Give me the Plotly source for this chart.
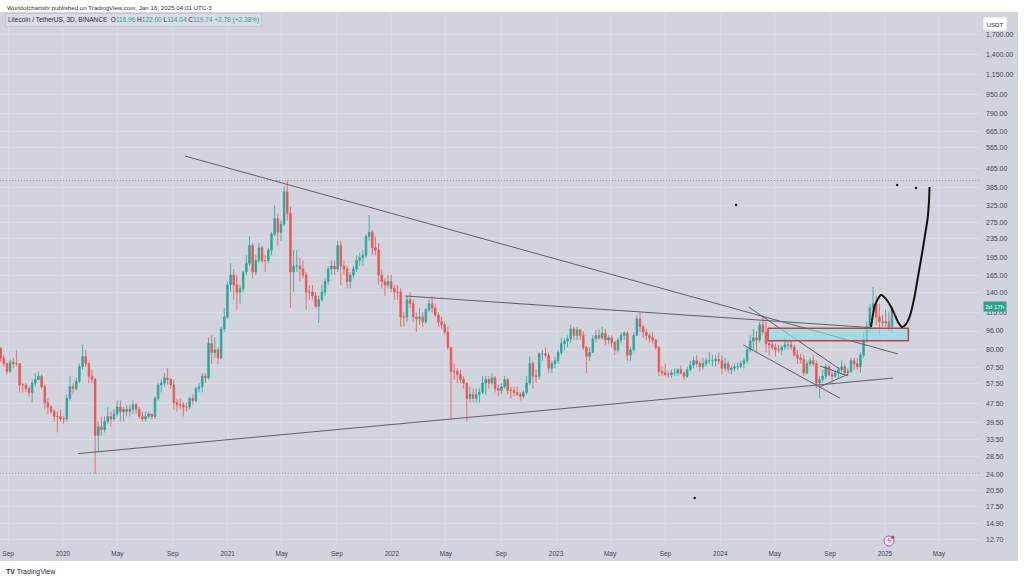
import numpy as np
import pandas as pd
import plotly.graph_objects as go

# ---------------- data (weekly candles) ----------------
first_open = 81
close_2019 = [74, 70, 65, 71, 70, 70, 57, 57, 55, 53, 58, 60, 62, 56, 48, 46, 44, 42, 42, 41, 41]
high_2019 = [82, 76, 71, 73, 74, 80, 70, 58, 58, 56, 60, 64, 65, 63, 57, 50, 47, 45, 44, 45, 42]
low_2019 = [71, 68, 63, 64, 67, 68, 53, 53, 53, 51, 48, 56, 60, 55, 45, 43, 43, 40, 36, 40, 39]

close_2020 = [50, 56, 55, 59, 68, 75, 70, 62, 60, 35, 38, 37, 40, 42, 41, 43, 46, 44, 45, 44, 45, 47, 45, 42, 41, 42,
              43, 42, 50, 57, 58, 61, 60, 57, 48, 47, 47, 46, 46, 50, 49, 55, 56, 62, 61, 85, 78, 80, 74, 98, 110, 150]
high_2020 = [52, 62, 58, 61, 70, 84, 80, 71, 66, 61, 40, 42, 42, 46, 44, 45, 49, 49, 46, 47, 47, 49, 48, 46, 44, 44,
             44, 43, 51, 58, 60, 64, 67, 61, 60, 50, 50, 48, 48, 51, 52, 56, 58, 64, 64, 90, 92, 90, 82, 100, 120, 155]
low_2020 = [40, 49, 52, 54, 58, 66, 68, 58, 58, 24, 30, 35, 36, 39, 38, 40, 42, 40, 40, 42, 42, 43, 43, 41, 40, 40,
            41, 41, 41, 49, 53, 56, 57, 55, 45, 44, 45, 42, 44, 45, 47, 48, 53, 53, 58, 60, 70, 74, 70, 73, 95, 108]

close_2021 = [165, 150, 140, 145, 170, 185, 220, 170, 190, 215, 190, 190, 210, 245, 285, 250, 270, 370, 300, 170, 180,
              180, 175, 165, 140, 140, 135, 122, 130, 140, 155, 175, 180, 175, 220, 180, 175, 155, 165, 175, 190, 195,
              200, 240, 250, 215, 210, 165, 155, 150, 155, 145]
high_2021 = [185, 175, 165, 150, 172, 200, 240, 225, 200, 225, 220, 200, 215, 250, 325, 300, 280, 390, 413, 320, 210,
             210, 195, 190, 170, 150, 150, 140, 135, 150, 160, 180, 190, 190, 230, 230, 190, 180, 170, 180, 200, 205,
             210, 245, 295, 255, 240, 225, 175, 160, 165, 165]
low_2021 = [140, 130, 118, 125, 140, 165, 180, 160, 165, 185, 185, 170, 185, 200, 240, 220, 230, 265, 280, 120, 140,
            170, 155, 160, 118, 130, 130, 120, 104, 128, 135, 150, 165, 165, 170, 150, 165, 145, 145, 160, 170, 180,
            180, 195, 230, 200, 200, 150, 145, 135, 145, 140]

close_2022 = [140, 140, 110, 110, 130, 125, 110, 108, 110, 105, 118, 125, 120, 112, 105, 102, 95, 82, 65, 65, 63, 60,
              58, 50, 52, 50, 52, 53, 58, 60, 58, 61, 55, 54, 56, 60, 54, 54, 53, 52, 51, 53, 58, 70, 62, 62, 77, 77,
              76, 67, 70, 72]
high_2022 = [150, 150, 145, 115, 135, 140, 130, 115, 120, 115, 120, 130, 135, 125, 115, 110, 105, 100, 82, 70, 67, 66,
             62, 58, 56, 55, 55, 55, 62, 62, 62, 64, 62, 57, 58, 62, 61, 56, 56, 56, 53, 54, 62, 75, 72, 66, 78, 80,
             82, 78, 72, 75]
low_2022 = [130, 130, 100, 100, 105, 120, 105, 95, 102, 100, 103, 115, 115, 110, 100, 98, 92, 80, 41, 60, 58, 58,
            55, 40, 48, 48, 48, 48, 52, 52, 55, 57, 53, 51, 52, 55, 52, 50, 51, 51, 49, 50, 52, 57, 55, 58, 60, 72,
            74, 64, 64, 67]

close_2023 = [78, 85, 87, 89, 98, 92, 97, 92, 82, 75, 78, 89, 92, 90, 94, 88, 90, 86, 80, 88, 92, 94, 76, 80, 92, 108,
              100, 95, 92, 90, 88, 82, 65, 64, 63, 63, 64, 64, 66, 64, 62, 66, 69, 72, 70, 68, 70, 72, 72, 72, 73, 72]
high_2023 = [80, 90, 90, 92, 102, 100, 100, 98, 96, 83, 82, 92, 97, 98, 100, 98, 92, 92, 87, 90, 95, 96, 96, 82, 95,
             112, 115, 102, 98, 94, 95, 89, 83, 68, 70, 65, 66, 67, 67, 69, 65, 68, 72, 75, 76, 72, 74, 74, 78, 76,
             76, 78]
low_2023 = [70, 76, 80, 82, 85, 88, 88, 88, 80, 64, 72, 78, 86, 88, 88, 84, 85, 82, 76, 78, 85, 88, 72, 72, 78, 92,
            95, 90, 88, 86, 85, 80, 62, 62, 62, 61, 61, 62, 62, 63, 60, 61, 65, 67, 68, 65, 66, 68, 70, 68, 68, 70]

close_2024 = [67, 70, 66, 67, 68, 68, 70, 72, 80, 87, 90, 88, 102, 95, 85, 84, 82, 80, 80, 82, 84, 84, 82, 76, 74, 73,
              64, 70, 72, 70, 58, 60, 62, 68, 63, 62, 64, 66, 68, 64, 65, 72, 70, 68, 76, 88, 100, 120, 125, 110, 105,
              104, 105]
high_2024 = [76, 74, 72, 69, 70, 71, 72, 74, 82, 92, 98, 96, 105, 112, 105, 88, 88, 85, 84, 84, 90, 88, 88, 84, 80,
             77, 76, 72, 74, 76, 72, 62, 66, 70, 69, 65, 66, 68, 72, 70, 67, 74, 74, 74, 78, 95, 105, 125, 147, 135,
             125, 112, 118]
low_2024 = [63, 65, 64, 63, 65, 66, 67, 67, 70, 78, 80, 78, 86, 92, 78, 76, 80, 75, 78, 76, 80, 80, 80, 75, 70, 70,
            62, 63, 68, 68, 55, 50, 58, 60, 62, 58, 61, 61, 64, 63, 62, 64, 66, 66, 64, 74, 86, 95, 115, 102, 92,
            100, 100]

close_2025 = [100, 119.74]
high_2025 = [116, 122]
low_2025 = [96, 95]

# trend lines / drawings (date, price)
desc_line_dates = ["2020-09-28", "2025-01-30"]
desc_line_prices = [522.6, 76.9]
flat_line_dates = ["2022-01-31", "2024-11-28"]
flat_line_prices = [134.8, 99.3]
support_line_dates = ["2020-02-03", "2025-01-19"]
support_line_prices = [29.3, 60.9]
chan_up_dates = ["2024-03-05", "2024-09-23"]
chan_up_prices = [120.8, 66.3]
chan_low_dates = ["2024-02-21", "2024-09-23"]
chan_low_prices = [83.9, 50.1]
wedge_a_dates = ["2024-08-10", "2024-10-11"]
wedge_a_prices = [68.4, 62.1]
wedge_b_dates = ["2024-08-10", "2024-10-11"]
wedge_b_prices = [56.0, 63.2]

zone_dates = ["2024-04-16", "2025-02-22"]
zone_prices = [87.4, 98.6]

proj_dates = ["2024-12-01", "2024-12-10", "2024-12-23", "2025-01-05", "2025-01-19", "2025-01-30", "2025-02-08",
              "2025-02-17", "2025-02-26", "2025-03-07", "2025-03-16", "2025-03-25", "2025-03-31", "2025-04-06",
              "2025-04-09", "2025-04-10"]
proj_prices = [99.8, 123.6, 136.1, 129.7, 116.6, 104.8, 99.8, 102.8, 112.1, 132.0, 165.0, 206.6, 243.0, 287.0,
               342.0, 387.0]

dot_dates = ["2024-02-05", "2025-01-28", "2025-03-11", "2023-11-05"]
dot_prices = [325, 394.7, 383.6, 19.07]

hline_prices = [412.3, 24.2]

y_ticks = [12.7, 14.9, 17.5, 20.5, 24, 28.5, 33.5, 39.5, 47.5, 57.5, 67.5, 80, 96, 115, 140, 165, 195, 235, 275,
           325, 385, 465, 565, 665, 790, 950, 1150, 1400, 1700]
x_tick_dates = ["2019-09-01", "2020-01-01", "2020-05-01", "2020-09-01", "2021-01-01", "2021-05-01", "2021-09-01",
                "2022-01-01", "2022-05-01", "2022-09-01", "2023-01-01", "2023-05-01", "2023-09-01", "2024-01-01",
                "2024-05-01", "2024-09-01", "2025-01-01", "2025-05-01"]
x_tick_labels = ["Sep", "2020", "May", "Sep", "2021", "May", "Sep", "2022", "May", "Sep", "2023", "May", "Sep",
                 "2024", "May", "Sep", "2025", "May"]

# ---------------- assemble ----------------
close = close_2019 + close_2020 + close_2021 + close_2022 + close_2023 + close_2024 + close_2025
high = high_2019 + high_2020 + high_2021 + high_2022 + high_2023 + high_2024 + high_2025
low = low_2019 + low_2020 + low_2021 + low_2022 + low_2023 + low_2024 + low_2025
opens = [first_open] + close[:-1]
high = np.maximum.reduce([np.array(high, float), np.array(opens, float), np.array(close, float)])
low = np.minimum.reduce([np.array(low, float), np.array(opens, float), np.array(close, float)])
candle_dates = pd.date_range("2019-08-15 12:00", periods=len(close), freq="7D")

X0, X1 = "2019-08-14", "2025-07-31 05:00"
PLOT_W, PLOT_T, PLOT_B = 980, 12, 546
PLOT_H = PLOT_B - PLOT_T


def px(x):
    return x / PLOT_W


def py(y):
    return (PLOT_B - y) / PLOT_H


BG = "#d1d4dc"
GRID = "#dadce3"
GREEN = "#26a69a"
RED = "#ef5350"
LINEC = "#5d606b"
TXT = "#434651"
FONT = "Liberation Sans, Arial, sans-serif"

fig = go.Figure()

fig.add_trace(go.Candlestick(
    x=candle_dates, open=opens, high=high, low=low, close=close,
    increasing=dict(line=dict(color=GREEN, width=0.8), fillcolor=GREEN),
    decreasing=dict(line=dict(color=RED, width=0.8), fillcolor=RED),
    whiskerwidth=0, hoverinfo="skip", showlegend=False,
))

for p in hline_prices:
    fig.add_trace(go.Scatter(x=[X0, X1], y=[p, p], mode="lines",
                             line=dict(color="#8a8d96", width=0.8, dash="1px,2px"),
                             hoverinfo="skip", showlegend=False))

for dts, prs in [(desc_line_dates, desc_line_prices), (flat_line_dates, flat_line_prices),
                 (support_line_dates, support_line_prices), (chan_up_dates, chan_up_prices),
                 (chan_low_dates, chan_low_prices), (wedge_a_dates, wedge_a_prices),
                 (wedge_b_dates, wedge_b_prices)]:
    fig.add_trace(go.Scatter(x=dts, y=prs, mode="lines", line=dict(color=LINEC, width=1),
                             hoverinfo="skip", showlegend=False))

fig.add_trace(go.Scatter(
    x=[zone_dates[0], zone_dates[1], zone_dates[1], zone_dates[0], zone_dates[0]],
    y=[zone_prices[1], zone_prices[1], zone_prices[0], zone_prices[0], zone_prices[1]],
    mode="lines", fill="toself", fillcolor="rgba(140,222,232,0.62)",
    line=dict(color="#c0404a", width=1.5), hoverinfo="skip", showlegend=False))

fig.add_trace(go.Scatter(x=proj_dates, y=proj_prices, mode="lines",
                         line=dict(color="#111111", width=2, shape="spline", smoothing=0.6),
                         hoverinfo="skip", showlegend=False))

fig.add_trace(go.Scatter(x=dot_dates, y=dot_prices, mode="markers",
                         marker=dict(color="#222222", size=2.5), hoverinfo="skip", showlegend=False))

shapes = [
    dict(type="rect", xref="paper", yref="paper", x0=0, x1=px(1018), y0=py(561), y1=py(PLOT_T),
         fillcolor=BG, line=dict(width=0), layer="below"),
    dict(type="circle", xref="paper", yref="paper", x0=px(884), x1=px(894), y0=py(546), y1=py(536),
         fillcolor="#ece3f1", line=dict(color="#b05cc8", width=1)),
    dict(type="circle", xref="paper", yref="paper", x0=px(891), x1=px(894.5), y0=py(539), y1=py(535.5),
         fillcolor="#e53935", line=dict(width=0)),
]

legend_text = ("Litecoin / TetherUS, 3D, BINANCE  O<span style='color:#26a69a'>116.96</span> "
               "H<span style='color:#26a69a'>122.00</span> L<span style='color:#26a69a'>114.04</span> "
               "C<span style='color:#26a69a'>119.74</span> <span style='color:#26a69a'>+2.78 (+2.38%)</span>")

annotations = [
    dict(xref="paper", yref="paper", x=px(5), y=py(7.5), xanchor="left", yanchor="middle", showarrow=False,
         text="Worldofchartsfx published on TradingView.com, Jan 16, 2025 04:01 UTC-3",
         font=dict(family=FONT, size=6.2, color="#333333")),
    dict(xref="paper", yref="paper", x=px(5), y=py(20.5), xanchor="left", yanchor="middle", showarrow=False,
         text=legend_text, font=dict(family=FONT, size=6.5, color="#2a2e39"),
         bgcolor="#d9dce3", bordercolor="#c4c7cf", borderwidth=1, borderpad=2),
    dict(xref="paper", yref="paper", x=px(995.5), y=py(24), xanchor="center", yanchor="middle", showarrow=False,
         text="USDT", font=dict(family=FONT, size=6.2, color="#2a2e39"),
         bgcolor="#ffffff", borderpad=2.5),
    dict(xref="paper", yref="paper", x=px(995), y=py(306.5), xanchor="center", yanchor="middle", showarrow=False,
         text="2d 17h", font=dict(family=FONT, size=6.2, color="#ffffff"),
         bgcolor="#2aa58c", borderpad=1.2),
    dict(xref="paper", yref="paper", x=px(889), y=py(541), xanchor="center", yanchor="middle", showarrow=False,
         text="ϟ", font=dict(family="DejaVu Sans", size=7, color="#9c3fb8")),
    dict(xref="paper", yref="paper", x=px(4), y=py(571.5), xanchor="left", yanchor="middle", showarrow=False,
         text="<b>TV</b> TradingView", font=dict(family=FONT, size=7, color="#2a2e39")),
]

fig.update_layout(
    width=1024, height=580,
    margin=dict(l=0, r=1024 - PLOT_W, t=PLOT_T, b=580 - PLOT_B),
    paper_bgcolor="#ffffff", plot_bgcolor=BG,
    showlegend=False, shapes=shapes, annotations=annotations,
    font=dict(family=FONT, color=TXT),
    xaxis=dict(type="date", range=[X0, X1], tickvals=x_tick_dates, ticktext=x_tick_labels,
               showgrid=True, gridcolor=GRID, gridwidth=1, zeroline=False, showline=False, ticks="",
               tickfont=dict(family=FONT, size=6.5, color=TXT), rangeslider=dict(visible=False),
               automargin=False, fixedrange=True, ticklabelstandoff=2),
    yaxis=dict(type="log", range=[np.log10(11.98), np.log10(2107)], side="right",
               tickvals=y_ticks, ticktext=[f"{v:,.2f}" for v in y_ticks],
               showgrid=True, gridcolor=GRID, gridwidth=1, zeroline=False, showline=False, ticks="",
               tickfont=dict(family=FONT, size=7, color=TXT), automargin=False, fixedrange=True,
               ticklabelstandoff=5),
)

fig.write_html("out.html")
